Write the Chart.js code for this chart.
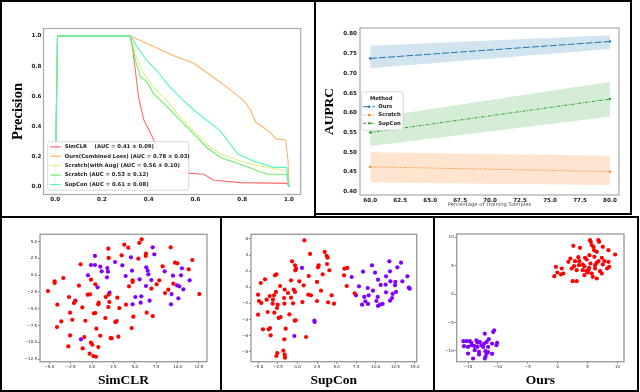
<!DOCTYPE html>
<html><head><meta charset="utf-8">
<script src="https://cdn.jsdelivr.net/npm/chart.js@4.4.1/dist/chart.umd.min.js"></script>
<style>
html,body{margin:0;padding:0;background:#fff;}
#root{position:relative;width:640px;height:392px;overflow:hidden;background:#fff;}
.c{position:absolute;}
.b{position:absolute;box-sizing:border-box;border:2px solid #000;}
.l{position:absolute;background:#000;}
</style></head><body><div id="root">
<div class="c" style="left:2px;top:2px;width:312px;height:212px"><canvas id="pr"></canvas></div>
<div class="c" style="left:317px;top:2px;width:313px;height:210px"><canvas id="au"></canvas></div>
<div class="c" style="left:3px;top:219px;width:217px;height:170px"><canvas id="s1"></canvas></div>
<div class="c" style="left:224px;top:219px;width:209px;height:170px"><canvas id="s2"></canvas></div>
<div class="c" style="left:437px;top:219px;width:199px;height:170px"><canvas id="s3"></canvas></div>
<div class="b" style="left:0;top:0;width:316px;height:218px"></div>
<div class="b" style="left:314px;top:0;width:318px;height:215px"></div>
<div class="b" style="left:0;top:216px;width:639px;height:176px"></div>
<div class="l" style="left:220px;top:216px;width:2px;height:176px"></div>
<div class="l" style="left:433px;top:216px;width:2px;height:176px"></div>
</div>
<script>
// ---------- Precision-Recall data ----------
const prLabels = ['SimCLR    (AUC = 0.41 \u00b1 0.09)', 'Ours(Combined Loss) (AUC = 0.78 \u00b1 0.03)', 'Scratch(with Aug) (AUC = 0.56 \u00b1 0.10)', 'Scratch (AUC = 0.53 \u00b1 0.12)', 'SupCon (AUC = 0.61 \u00b1 0.08)'];
const simclrRecall    = [0, 0.01, 0.321, 0.33, 0.343, 0.357, 0.38, 0.41, 0.436, 0.48, 0.536, 0.636, 0.679, 0.793, 0.993, 1.0];
const simclrPrecision = [0, 1.0, 1.0, 0.93, 0.77, 0.59, 0.44, 0.35, 0.26, 0.17, 0.095, 0.084, 0.044, 0.029, 0.024, 0.0];
const oursRecall      = [0, 0.01, 0.321, 0.407, 0.507, 0.593, 0.664, 0.736, 0.807, 0.836, 0.857, 0.921, 0.943, 0.986, 0.996, 1.0];
const oursPrecision   = [0, 1.0, 1.0, 0.94, 0.87, 0.82, 0.74, 0.66, 0.57, 0.51, 0.43, 0.36, 0.32, 0.31, 0.17, 0.0];
const augRecall       = [0, 0.01, 0.321, 0.343, 0.379, 0.421, 0.479, 0.536, 0.593, 0.65, 0.707, 0.793, 0.907, 0.993, 1.0];
const augPrecision    = [0, 1.0, 1.0, 0.88, 0.75, 0.66, 0.57, 0.46, 0.37, 0.28, 0.22, 0.17, 0.13, 0.106, 0.0];
const scratchRecall   = [0, 0.01, 0.321, 0.343, 0.364, 0.39, 0.42, 0.48, 0.536, 0.593, 0.65, 0.707, 0.79, 0.907, 0.99, 1.0];
const scratchPrecision= [0, 1.0, 1.0, 0.84, 0.73, 0.70, 0.62, 0.53, 0.44, 0.35, 0.26, 0.195, 0.15, 0.084, 0.084, 0.0];
const supconRecall    = [0, 0.01, 0.321, 0.35, 0.39, 0.436, 0.48, 0.536, 0.593, 0.65, 0.707, 0.736, 0.78, 0.85, 0.936, 0.99, 1.0];
const supconPrecision = [0, 1.0, 1.0, 0.93, 0.84, 0.77, 0.68, 0.59, 0.51, 0.44, 0.37, 0.31, 0.22, 0.17, 0.13, 0.13, 0.0];
const prXTicks = [0, 0.2, 0.4, 0.6, 0.8, 1.0];
const prYTicks = [0, 0.2, 0.4, 0.6, 0.8, 1.0];

// ---------- AUPRC data ----------
const pctSamples = [60, 80];
const aupMethods = ['Ours', 'Scratch', 'SupCon'];
const oursMean = [0.738, 0.781], oursLow = [0.713, 0.762], oursHigh = [0.770, 0.797];
const scratchMean = [0.463, 0.451], scratchLow = [0.423, 0.417], scratchHigh = [0.500, 0.491];
const supconMean = [0.550, 0.635], supconLow = [0.516, 0.590], supconHigh = [0.586, 0.679];
const aupXTicks = [60, 62.5, 65, 67.5, 70, 72.5, 75, 77.5, 80];
const aupYTicks = [0.40, 0.45, 0.50, 0.55, 0.60, 0.65, 0.70, 0.75, 0.80];

// ---------- t-SNE scatter data ----------
const simclrRedX = [5.80,5.52,3.77,4.24,1.90,9.19,6.30,6.27,3.46,1.94,5.41,11.72,-1.34,9.70,9.97,8.25,11.29,-3.36,-4.38,-4.38,-5.16,-0.13,0.38,-1.53,4.74,4.74,4.32,7.86,7.55,6.93,9.50,8.92,8.53,12.54,1.94,1.59,-0.25,-0.52,2.95,-2.70,-4.07,-2.12,-1.96,0.77,0.73,2.02,3.96,1.90,-1.14,3.19,-2.58,0.38,0.22,4.82,6.38,7.09,-3.60,-2.31,-0.79,1.55,2.88,2.72,-4.11,0.50,4.63,-2.58,0.96,-0.91,2.17,2.29,3.07,-2.78,-0.13,0.03,0.73,-1.10,-0.28,0.14,0.46];
const simclrRedY = [5.35,4.81,4.56,4.11,3.96,4.16,3.21,2.87,2.97,2.57,2.47,2.27,1.62,1.87,1.77,1.32,0.88,-0.42,-0.92,-1.16,-2.36,-0.67,-1.36,-1.56,-0.77,-1.01,-1.66,-0.77,-1.36,-2.01,-1.26,-2.16,-2.66,-2.81,-2.91,-3.25,-2.86,-2.91,-3.35,-3.25,-4.40,-4.15,-3.85,-4.10,-4.35,-4.00,-4.40,-4.75,-4.80,-4.90,-5.59,-5.64,-5.69,-6.19,-5.59,-6.09,-6.89,-6.64,-6.79,-6.39,-6.84,-6.98,-7.73,-7.98,-7.88,-8.98,-9.03,-9.23,-9.37,-9.42,-9.17,-10.62,-10.07,-10.37,-10.72,-10.92,-11.71,-12.06,-12.16];
const simclrPurpleX = [7.09,7.28,0.34,4.55,2.68,-0.13,0.34,0.96,3.54,6.34,1.78,4.67,1.12,1.86,6.50,6.58,8.49,10.51,-0.48,1.74,3.93,5.56,6.93,9.46,10.40,11.41,0.65,6.30,9.93,10.20,10.67,9.30,2.05,5.06,5.76,6.73,5.68,4.74,-1.96,10.09,9.23,2.76,-1.30];
const simclrPurpleY = [4.16,3.11,2.87,2.67,1.97,1.52,1.52,1.27,1.47,1.17,1.07,0.68,0.58,0.53,0.68,0.13,0.58,1.02,-0.02,-0.32,-0.12,-0.62,-0.72,-0.07,-0.02,-0.77,-1.81,-1.61,-1.51,-1.66,-2.11,-2.81,-2.61,-3.25,-3.15,-3.80,-4.10,-4.35,-3.80,-3.45,-4.35,-6.98,-9.57];

const supconRedX = [0.87,1.60,3.47,3.72,3.85,-0.70,-0.32,-0.19,-0.28,2.70,2.62,3.77,4.07,1.43,3.21,-2.70,-2.87,-4.15,-4.70,-0.83,0.23,2.49,-2.23,0.79,-0.49,-1.64,-0.32,-1.21,-2.75,-3.00,-3.55,-5.04,1.38,1.72,3.00,4.36,-3.94,-4.92,-4.62,-3.13,-1.72,-0.83,0.62,2.49,3.90,4.66,-3.17,-1.68,-2.53,-0.57,-2.62,-2.96,-3.81,-5.04,-2.15,-2.41,-1.04,-0.36,-0.23,-3.51,-3.68,-4.41,-3.43,-1.51,-1.68,1.09,-1.81,-2.58,-2.70,-1.64,-1.60,5.98,6.36,5.94,6.28,7.30];
const supconRedY = [5.83,4.14,4.39,3.89,3.68,3.23,2.73,2.31,2.11,2.73,2.48,2.89,2.11,1.40,1.61,1.61,1.49,0.99,0.53,0.87,0.74,0.66,0.16,0.24,-0.29,-0.29,-0.58,-0.71,-0.58,-1.00,-1.08,-0.92,-0.92,-1.00,-0.42,-1.00,-1.54,-1.70,-1.95,-1.54,-1.33,-1.29,-1.83,-1.70,-1.87,-2.03,-2.03,-2.03,-2.16,-1.99,-2.57,-3.15,-3.07,-3.40,-3.69,-3.81,-3.36,-4.14,-4.10,-5.06,-5.22,-5.22,-5.97,-5.14,-6.46,-6.17,-7.87,-8.16,-8.53,-8.36,-8.74,2.31,2.40,1.49,0.16,-0.75];
const supconPurpleX = [0.57,2.15,2.19,-0.40,6.92,8.37,9.51,11.73,13.22,9.90,10.28,11.30,11.81,12.75,14.03,14.20,14.33,13.39,7.85,8.96,11.26,10.62,11.86,12.49,12.45,7.47,8.53,9.09,9.64,8.66,8.24,9.00,10.24,10.07,10.87,10.53,10.28,11.30,12.15,12.58,11.81,12.07];
const supconPurpleY = [2.40,-4.14,-4.31,-6.05,1.28,1.94,2.73,3.23,3.06,1.82,0.95,1.36,1.98,2.48,1.36,-0.05,-0.17,0.74,0.12,-0.09,0.33,0.29,0.74,0.66,0.24,-1.00,-1.20,-1.00,-0.42,-1.74,-2.16,-2.07,-1.20,-1.70,-2.07,-2.16,-2.32,-0.63,-0.83,-0.58,-1.66,-1.33];

const oursRedX = [5.42,5.53,6.81,6.93,2.62,3.74,5.70,5.98,7.55,8.50,6.09,6.54,5.31,9.61,2.12,3.46,4.58,4.86,6.15,7.38,1.79,2.90,3.63,4.19,5.48,6.54,7.82,8.50,8.61,7.55,6.26,5.25,4.47,3.57,2.73,2.34,3.18,4.19,5.14,6.26,7.10,7.38,8.27,-0.29,0.67,-0.06,0.95,0.55,-0.56,5.70,5.87,6.54,4.47,5.03,4.86,2.51,3.18,6.81];
const oursRedY = [9.52,9.22,9.52,9.22,8.52,8.17,8.64,8.34,8.34,7.75,7.75,7.46,6.87,6.99,6.28,6.52,6.40,6.11,6.58,6.40,5.70,5.81,5.81,5.23,5.40,5.52,5.81,5.70,4.81,5.23,5.11,4.64,4.87,5.11,4.93,4.52,4.23,4.23,4.23,4.52,4.05,3.64,4.52,4.81,4.52,3.82,3.64,3.46,3.17,3.64,3.05,2.76,3.35,3.82,4.05,2.29,2.29,5.81];
const oursPurpleX = [-12.19,-10.63,-10.79,-15.78,-15.27,-14.71,-15.67,-15.00,-14.44,-13.60,-13.44,-13.04,-13.99,-13.44,-12.77,-12.31,-11.87,-11.64,-10.97,-10.13,-10.24,-15.00,-14.16,-13.88,-13.16,-13.16,-12.08,-11.92,-11.64,-12.08,-12.19,-10.97,-12.47,-11.53,-14.44];
const oursPurpleY = [-6.96,-6.36,-6.65,-8.29,-8.29,-8.29,-9.17,-9.29,-9.00,-8.12,-8.53,-8.41,-9.12,-9.29,-9.00,-8.71,-8.41,-9.29,-8.71,-8.58,-9.00,-10.46,-11.34,-9.87,-10.17,-10.64,-10.05,-10.52,-10.23,-11.04,-11.34,-10.52,-9.29,-7.93,-8.58];

const simclrXTicks = [-5, -2.5, 0, 2.5, 5, 7.5, 10, 12.5];
const simclrYTicks = [-12.5, -10, -7.5, -5, -2.5, 0, 2.5, 5];
const supconXTicks = [-5, -2.5, 0, 2.5, 5, 7.5, 10, 12.5, 15];
const supconYTicks = [-8, -6, -4, -2, 0, 2, 4, 6];
const oursXTicks = [-15, -10, -5, 0, 5, 10];
const oursYTicks = [-10, -5, 0, 5, 10];
const scatterTitles = ['SimCLR', 'SupCon', 'Ours'];

// ---------- helpers ----------
Chart.defaults.animation = false;
Chart.defaults.font.family = "'DejaVu Sans', sans-serif";
Chart.defaults.color = '#222';
const zip = (xs, ys) => xs.map((x, i) => ({x: x, y: ys[i]}));
const fmt1 = v => (v < 0 ? '\u2212' : '') + Math.abs(v).toFixed(1);
const fmt2 = v => v.toFixed(2);
const fmt0 = v => (v < 0 ? '\u2212' : '') + Math.abs(v).toFixed(0);
const setTicks = vals => s => { s.ticks = vals.map(v => ({value: v})); };
const frame = (color, w) => ({ id: 'frame', afterDatasetsDraw(chart) {
  const {ctx, chartArea: a} = chart; ctx.save(); ctx.strokeStyle = color; ctx.lineWidth = w;
  ctx.strokeRect(a.left, a.top, a.right - a.left, a.bottom - a.top); ctx.restore(); } });

function axis(min, max, ticks, fmt, size, fixed, isX, fontSize, bold, tickLen, pad, title) {
  const o = {
    type: 'linear', min: min, max: max,
    afterBuildTicks: setTicks(ticks),
    afterFit: s => { if (isX) s.height = size; else s.width = size; },
    grid: {display: tickLen > 0, drawOnChartArea: false, drawTicks: true, tickLength: tickLen, color: '#333', tickWidth: 0.6},
    border: {display: false},
    ticks: {autoSkip: false, maxRotation: 0, padding: pad, callback: v => fmt(v), color: '#222',
            font: {size: fontSize, weight: bold ? 'bold' : 'normal'}}
  };
  if (title) o.title = title;
  return o;
}

// ---------- Chart 1: precision-recall ----------
const prColors = ['#ff6b6b', '#ffb466', '#def28a', '#6cec6c', '#5af2c8'];
const prSeries = [[simclrRecall, simclrPrecision], [oursRecall, oursPrecision], [augRecall, augPrecision], [scratchRecall, scratchPrecision], [supconRecall, supconPrecision]];
const prLegend = { id: 'prLegend', afterDraw(chart) {
  const ctx = chart.ctx; ctx.save();
  const bx = 45.7, by = 139.7, bw = 141, bh = 48.5;
  ctx.fillStyle = 'rgba(255,255,255,0.85)'; ctx.strokeStyle = '#d0d0d0'; ctx.lineWidth = 0.8;
  ctx.beginPath(); ctx.roundRect(bx, by, bw, bh, 2); ctx.fill(); ctx.stroke();
  ctx.font = "bold 5.3px 'DejaVu Sans'"; ctx.textBaseline = 'middle'; ctx.fillStyle = '#222';
  chart.data.datasets.forEach((d, i) => {
    const y = by + 5.2 + i * 9.4;
    ctx.strokeStyle = d.borderColor; ctx.lineWidth = 1.2;
    ctx.beginPath(); ctx.moveTo(bx + 2.5, y); ctx.lineTo(bx + 13, y); ctx.stroke();
    ctx.fillStyle = '#222'; ctx.fillText(d.label, bx + 17, y);
  });
  ctx.restore(); } };
new Chart(document.getElementById('pr'), {
  type: 'line',
  data: { datasets: prSeries.map((s, i) => ({
    label: prLabels[i], data: zip(s[0], s[1]), borderColor: prColors[i], borderWidth: 1.1,
    pointRadius: 0, tension: 0, fill: false, order: 4 - i })) },
  options: {
    responsive: true, maintainAspectRatio: false, devicePixelRatio: 1,
    layout: {padding: {top: 26.5, right: 13.3, left: 0, bottom: 0}},
    plugins: {legend: {display: false}, tooltip: {enabled: false}},
    scales: {
      x: axis(-0.05, 1.05, prXTicks, fmt1, 19.5, true, true, 5.6, true, 0, 2),
      y: axis(-0.05, 1.05, prYTicks, fmt1, 41.5, true, false, 5.6, true, 0, 2,
        {display: true, text: 'Precision', color: '#000', padding: {top: 8, bottom: 0},
         font: {family: "'Liberation Serif', serif", size: 14.5, weight: 'bold', lineHeight: 1.2}})
    }
  },
  plugins: [frame('#aaaaaa', 1.2), prLegend]
});

// ---------- Chart 2: AUPRC ----------
const aupColors = ['#1f77b4', '#ff7f0e', '#2ca02c'];
const aupBand = ['rgba(31,119,180,0.2)', 'rgba(255,127,14,0.2)', 'rgba(44,160,44,0.2)'];
const aupDash = [[7, 2], [1, 1.5], [3, 1.5, 1, 1.5]];
const aupSets = [[oursHigh, oursLow, oursMean], [scratchHigh, scratchLow, scratchMean], [supconHigh, supconLow, supconMean]];
const aupDatasets = [];
aupSets.forEach((s, i) => {
  aupDatasets.push({label: aupMethods[i] + ' hi', data: zip(pctSamples, s[0]), borderWidth: 0, pointRadius: 0, fill: '+1', backgroundColor: aupBand[i], borderColor: 'rgba(0,0,0,0)'});
  aupDatasets.push({label: aupMethods[i] + ' lo', data: zip(pctSamples, s[1]), borderWidth: 0, pointRadius: 0, fill: false, borderColor: 'rgba(0,0,0,0)'});
  aupDatasets.push({label: aupMethods[i], data: zip(pctSamples, s[2]), borderWidth: 1, borderDash: aupDash[i], borderColor: aupColors[i], backgroundColor: aupColors[i], pointRadius: 1.2, pointBorderWidth: 0, fill: false, isMean: true, order: -1});
});
const aupLegend = { id: 'aupLegend', afterDraw(chart) {
  const ctx = chart.ctx; ctx.save();
  const bx = 44.7, by = 89.7, bw = 41.5, bh = 38.5;
  ctx.fillStyle = 'rgba(255,255,255,0.85)'; ctx.strokeStyle = '#d0d0d0'; ctx.lineWidth = 0.8;
  ctx.beginPath(); ctx.roundRect(bx, by, bw, bh, 2); ctx.fill(); ctx.stroke();
  ctx.textBaseline = 'middle'; ctx.fillStyle = '#222';
  ctx.font = "bold 5.3px 'DejaVu Sans'"; ctx.textAlign = 'center';
  ctx.fillText('Method', bx + 19.5, by + 6.6);
  ctx.textAlign = 'left';
  chart.data.datasets.filter(d => d.isMean).forEach((d, i) => {
    const y = by + 15 + i * 8.3;
    ctx.strokeStyle = d.borderColor; ctx.lineWidth = 1; ctx.setLineDash(d.borderDash);
    ctx.beginPath(); ctx.moveTo(bx + 1.5, y); ctx.lineTo(bx + 13.5, y); ctx.stroke();
    ctx.setLineDash([]); ctx.fillStyle = d.borderColor;
    ctx.beginPath(); ctx.arc(bx + 7.5, y, 1.2, 0, Math.PI * 2); ctx.fill();
    ctx.fillStyle = '#222'; ctx.fillText(d.label, bx + 16.5, y);
  });
  ctx.restore(); } };
new Chart(document.getElementById('au'), {
  type: 'line',
  data: {datasets: aupDatasets},
  options: {
    responsive: true, maintainAspectRatio: false, devicePixelRatio: 1,
    layout: {padding: {top: 26, right: 11, left: 0, bottom: 0}},
    plugins: {legend: {display: false}, tooltip: {enabled: false}, filler: {propagate: false}},
    scales: {
      x: axis(59.15, 80.75, aupXTicks, fmt1, 17, true, true, 5.6, true, 0, 2,
        {display: true, text: 'Percentage of Training Samples', color: '#555', padding: {top: 0, bottom: 4.2},
         font: {size: 5.3, weight: 'normal', lineHeight: 1.2}}),
      y: axis(0.3916, 0.8152, aupYTicks, fmt2, 43, true, false, 5.6, true, 0, 3,
        {display: true, text: 'AUPRC', color: '#000', padding: {top: 4, bottom: 0},
         font: {family: "'Liberation Serif', serif", size: 13.5, weight: 'bold', lineHeight: 1.2}})
    }
  },
  plugins: [frame('#aaaaaa', 1.2), aupLegend]
});

// ---------- Charts 3-5: t-SNE scatters ----------
function scatter(id, title, red, purple, xr, yr, xt, yt, fx, fy, yw, padTop, padRight) {
  new Chart(document.getElementById(id), {
    type: 'scatter',
    data: {datasets: [
      {label: 'class 1', data: zip(red[0], red[1]), backgroundColor: '#ff0000', pointRadius: 2.1, pointBorderWidth: 0},
      {label: 'class 0', data: zip(purple[0], purple[1]), backgroundColor: '#8000ff', pointRadius: 2.1, pointBorderWidth: 0}
    ]},
    options: {
      responsive: true, maintainAspectRatio: false, devicePixelRatio: 1,
      layout: {padding: {top: padTop, right: padRight, left: 0, bottom: 0}},
      plugins: {legend: {display: false}, tooltip: {enabled: false}},
      scales: {
        x: axis(xr[0], xr[1], xt, fx, 27.3, true, true, 4, false, 2, 1,
          {display: true, text: title, color: '#000', padding: {top: 0, bottom: 0},
           font: {family: "'Liberation Serif', serif", size: 13.5, weight: 'bold', lineHeight: 1.2}}),
        y: axis(yr[0], yr[1], yt, fy, yw, true, false, 4, false, 2, 1)
      }
    },
    plugins: [frame('#999999', 1.3)]
  });
}
scatter('s1', scatterTitles[0], [simclrRedX, simclrRedY], [simclrPurpleX, simclrPurpleY], [-6.09, 13.44], [-12.9, 6.1], simclrXTicks, simclrYTicks, fmt1, fmt1, 37, 15.3, 13);
scatter('s2', scatterTitles[1], [supconRedX, supconRedY], [supconPurpleX, supconPurpleY], [-5.94, 15.22], [-9.24, 6.58], supconXTicks, supconYTicks, fmt1, fmt0, 27, 15.3, 16.3);
scatter('s3', scatterTitles[2], [oursRedX, oursRedY], [oursPurpleX, oursPurpleY], [-16.9, 11.1], [-11.9, 10.6], oursXTicks, oursYTicks, fmt0, fmt0, 19.7, 15, 12);
</script>
</body></html>
